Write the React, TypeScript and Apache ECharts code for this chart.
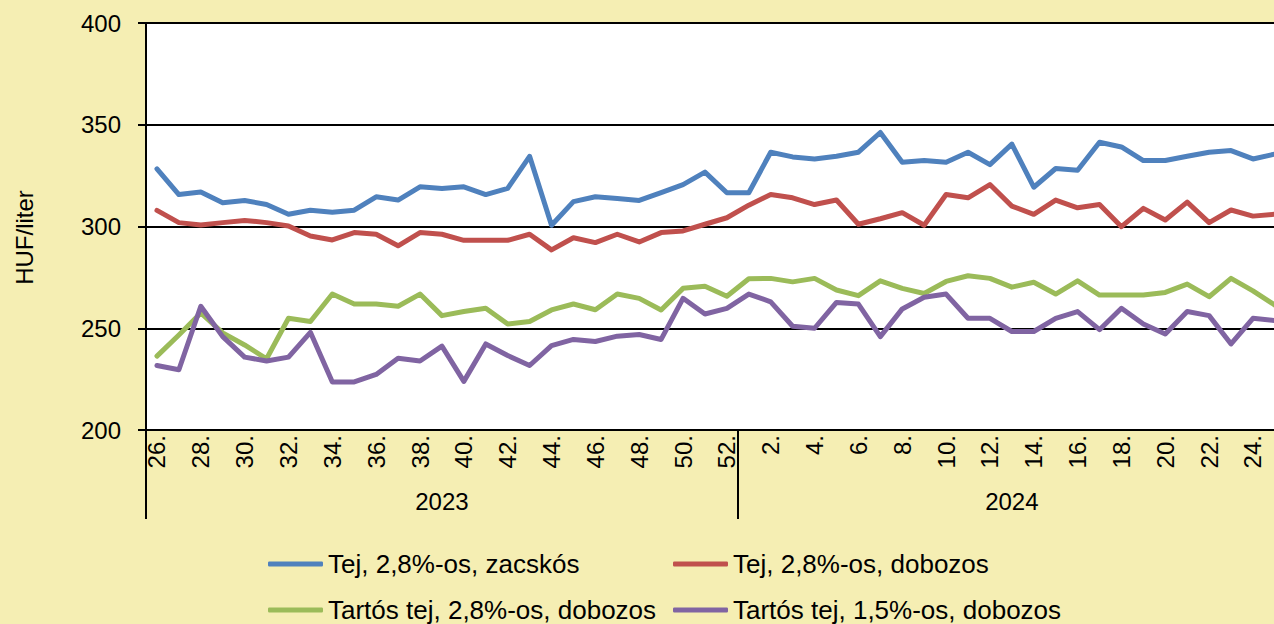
import React, { useEffect, useRef } from "react";
import * as echarts from "echarts";

const weeks = [
  "26.", "27.", "28.", "29.", "30.", "31.", "32.", "33.", "34.", "35.", "36.", "37.", "38.", "39.",
  "40.", "41.", "42.", "43.", "44.", "45.", "46.", "47.", "48.", "49.", "50.", "51.", "52.",
  "1.", "2.", "3.", "4.", "5.", "6.", "7.", "8.", "9.", "10.", "11.", "12.", "13.",
  "14.", "15.", "16.", "17.", "18.", "19.", "20.", "21.", "22.", "23.", "24.", "25.",
];
const years = ["2023", "2024"];
const weeksPerYear = [27, 25];

const yMin = 200;
const yMax = 400;
const yStep = 50;

const names = [
  "Tej, 2,8%-os, zacskós",
  "Tej, 2,8%-os, dobozos",
  "Tartós tej, 2,8%-os, dobozos",
  "Tartós tej, 1,5%-os, dobozos",
];

const tejZacskos = [
  328.3, 315.7, 317.0, 311.7, 312.8, 310.8, 306.0, 308.0, 307.0, 308.0, 314.6, 313.0, 319.5, 318.7,
  319.5, 315.7, 318.7, 334.5, 300.6, 312.2, 314.6, 313.8, 312.8, 316.6, 320.6, 326.7, 316.6,
  316.6, 336.5, 334.2, 333.2, 334.5, 336.5, 346.2, 331.6, 332.4, 331.6, 336.5, 330.4, 340.5,
  319.3, 328.5, 327.6, 341.4, 339.1, 332.4, 332.4, 334.5, 336.5, 337.3, 333.2, 335.6,
];
const tejDobozos = [
  307.9, 301.9, 300.7, 301.9, 303.0, 301.9, 300.2, 295.3, 293.4, 297.0, 296.2, 290.5, 297.0, 296.2,
  293.2, 293.2, 293.2, 296.2, 288.5, 294.5, 292.1, 296.2, 292.4, 297.0, 297.8, 301.1, 304.3,
  310.5, 315.7, 314.1, 310.8, 313.0, 301.1, 303.8, 306.8, 300.6, 315.7, 314.1, 320.6, 310.0,
  306.0, 313.0, 309.2, 310.8, 299.9, 308.9, 303.2, 312.0, 301.9, 308.1, 305.1, 306.0,
];
const tartos28 = [
  236.3, 246.7, 257.5, 247.7, 241.8, 235.0, 254.9, 253.3, 266.8, 261.9, 261.9, 260.8, 266.8, 256.2,
  258.2, 259.8, 252.1, 253.3, 259.0, 261.9, 259.1, 266.8, 264.7, 259.0, 269.6, 270.6, 265.7,
  274.3, 274.5, 272.8, 274.5, 268.8, 266.0, 273.3, 269.6, 267.1, 273.0, 275.8, 274.5, 270.2,
  272.6, 266.8, 273.3, 266.3, 266.3, 266.3, 267.6, 271.7, 265.5, 274.5, 268.4, 261.4,
];
const tartos15 = [
  231.7, 229.6, 260.8, 245.9, 235.8, 233.9, 235.8, 248.0, 223.6, 223.6, 227.3, 235.3, 233.9, 241.2,
  223.9, 242.3, 236.6, 231.7, 241.5, 244.5, 243.5, 246.1, 246.9, 244.5, 264.7, 257.0, 259.8,
  266.8, 263.0, 251.0, 250.0, 262.7, 261.9, 245.9, 259.5, 265.2, 266.8, 254.9, 254.9, 248.4,
  248.4, 254.9, 258.2, 249.3, 259.8, 252.1, 247.2, 258.2, 256.2, 242.3, 254.9, 253.8,
];

const colors = ["#4F81BD", "#C0504D", "#9BBB59", "#8064A2"];
const seriesData = [tejZacskos, tejDobozos, tartos28, tartos15];

const FONT = "'Liberation Sans', Arial, sans-serif";

export default function App() {
  const ref = useRef<HTMLDivElement>(null);

  useEffect(() => {
    if (!ref.current) return;
    const chart = echarts.init(ref.current, null, { renderer: "svg" });

    const yearStarts: number[] = [];
    const yearMids: number[] = [];
    let acc = 0;
    weeksPerYear.forEach((n) => {
      yearStarts.push(acc);
      yearMids.push(acc + Math.floor((n - 1) / 2));
      acc += n;
    });

    const band = 21.92;
    const gridLeft = 146;
    const gridTop = 23;
    const gridHeight = 407;

    const legendCommon = {
      orient: "horizontal",
      padding: 0,
      itemWidth: 55,
      itemHeight: 5,
      itemGap: 10,
      icon: "roundRect",
      textStyle: { fontSize: 26, fontFamily: FONT, color: "#000" },
      selectedMode: false,
    };
    const legendCols = [268, 673];
    const legendRows = [551, 597];

    const option: any = {
      animation: false,
      backgroundColor: "#F5EEB3",
      textStyle: { fontFamily: FONT, color: "#000" },
      grid: {
        left: gridLeft,
        top: gridTop,
        width: band * weeks.length,
        height: gridHeight,
        show: true,
        backgroundColor: "#FFFFFF",
        borderWidth: 0,
        containLabel: false,
        outerBoundsMode: "none",
      },
      legend: [
        { ...legendCommon, left: legendCols[0], top: legendRows[0], data: [names[0]] },
        { ...legendCommon, left: legendCols[1], top: legendRows[0], data: [names[1]] },
        { ...legendCommon, left: legendCols[0], top: legendRows[1], data: [names[2]] },
        { ...legendCommon, left: legendCols[1], top: legendRows[1], data: [names[3]] },
      ],
      xAxis: [
        {
          type: "category",
          data: weeks,
          boundaryGap: true,
          position: "bottom",
          axisLine: { show: true, lineStyle: { color: "#000", width: 2 } },
          axisTick: {
            show: true,
            interval: (i: number) => yearStarts.includes(i),
            length: 89,
            lineStyle: { color: "#000", width: 2 },
          },
          axisLabel: {
            interval: 1,
            rotate: 90,
            margin: 5,
            fontSize: 24,
            fontFamily: FONT,
            color: "#000",
          },
          splitLine: { show: false },
        },
        {
          type: "category",
          data: weeks,
          boundaryGap: true,
          position: "bottom",
          axisLine: { show: false },
          axisTick: { show: false },
          axisLabel: {
            interval: (i: number) => yearMids.includes(i),
            formatter: (_v: string, i: number) => {
              const k = yearMids.indexOf(i);
              return k >= 0 ? years[k] : "";
            },
            margin: 59,
            fontSize: 24,
            fontFamily: FONT,
            color: "#000",
          },
          splitLine: { show: false },
        },
      ],
      yAxis: {
        type: "value",
        min: yMin,
        max: yMax,
        interval: yStep,
        name: "HUF/liter",
        nameLocation: "middle",
        nameGap: 110,
        nameRotate: 90,
        nameTextStyle: { fontSize: 24, fontFamily: FONT, color: "#000", padding: [0, 22, 0, 0] },
        axisLine: { show: true, lineStyle: { color: "#000", width: 2 } },
        axisTick: { show: true, length: 8, lineStyle: { color: "#000", width: 2 } },
        axisLabel: { margin: 25, fontSize: 24, fontFamily: FONT, color: "#000" },
        splitLine: { show: true, lineStyle: { color: "#000", width: 2 } },
      },
      series: seriesData.map((d, k) => ({
        name: names[k],
        type: "line",
        xAxisIndex: 0,
        data: d,
        symbol: "none",
        smooth: false,
        color: colors[k],
        lineStyle: { width: 5, color: colors[k], cap: "round", join: "round" },
        emphasis: { disabled: true },
      })),
    };

    chart.setOption(option);
    return () => {
      chart.dispose();
    };
  }, []);

  return (
    <div
      ref={ref}
      style={{ position: "fixed", left: 0, top: 0, width: 1274, height: 624 }}
    />
  );
}
